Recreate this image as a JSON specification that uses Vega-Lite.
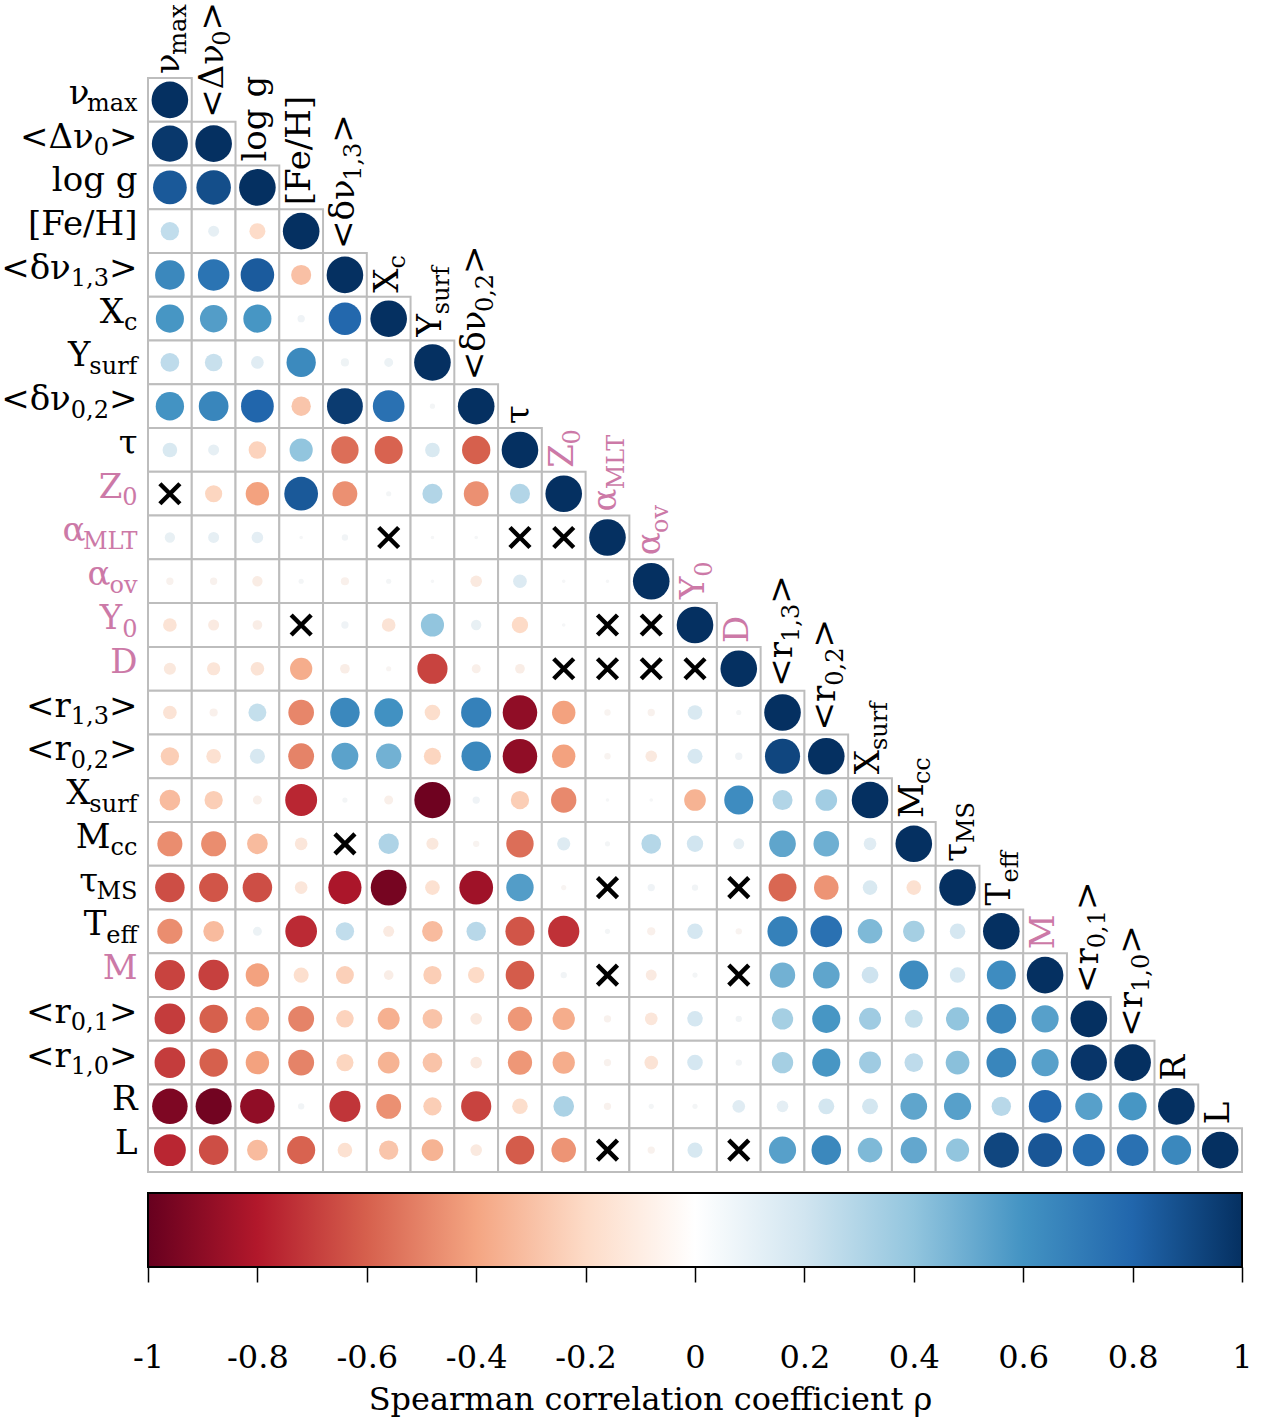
{
"$schema": "https://vega.github.io/schema/vega-lite/v6.json",
"width": 1094, "height": 1189,
"autosize": {"type": "none"},
"padding": {"left": 148, "top": 78, "right": 20, "bottom": 157},
"background": "white",
"config": {"view": {"stroke": null}},
"params": [
 {"name": "SW", "value": {"max": 48, "0": 15.2, "1,3": 38.2, "0,2": 38.2, "0,1": 38.2, "1,0": 38.2, "c": 13.5, "surf": 47, "MLT": 52, "ov": 27, "cc": 26.9, "MS": 39.5, "eff": 31}},
 {"name": "BW", "value": {"ν": 19.2, "<Δν": 72.1, "<δν": 68.2, "X": 24.2, "Y": 22.4, "Z": 23.4, "α": 22.4, "<r": 44.7, "M": 33.8, "τ": 18.7, "T": 23}}
],
"datasets": {
"labels": [
 {"name":"nu_max","base":"ν","sub":"max","tail":"","pink":false},
 {"name":"Dnu0","base":"<Δν","sub":"0","tail":">","pink":false},
 {"name":"logg","base":"log g","sub":"","tail":"","pink":false},
 {"name":"FeH","base":"[Fe/H]","sub":"","tail":"","pink":false},
 {"name":"dnu13","base":"<δν","sub":"1,3","tail":">","pink":false},
 {"name":"Xc","base":"X","sub":"c","tail":"","pink":false},
 {"name":"Ysurf","base":"Y","sub":"surf","tail":"","pink":false},
 {"name":"dnu02","base":"<δν","sub":"0,2","tail":">","pink":false},
 {"name":"tau","base":"τ","sub":"","tail":"","pink":false},
 {"name":"Z0","base":"Z","sub":"0","tail":"","pink":true},
 {"name":"aMLT","base":"α","sub":"MLT","tail":"","pink":true},
 {"name":"aov","base":"α","sub":"ov","tail":"","pink":true},
 {"name":"Y0","base":"Y","sub":"0","tail":"","pink":true},
 {"name":"D","base":"D","sub":"","tail":"","pink":true},
 {"name":"r13","base":"<r","sub":"1,3","tail":">","pink":false},
 {"name":"r02","base":"<r","sub":"0,2","tail":">","pink":false},
 {"name":"Xsurf","base":"X","sub":"surf","tail":"","pink":false},
 {"name":"Mcc","base":"M","sub":"cc","tail":"","pink":false},
 {"name":"tauMS","base":"τ","sub":"MS","tail":"","pink":false},
 {"name":"Teff","base":"T","sub":"eff","tail":"","pink":false},
 {"name":"M","base":"M","sub":"","tail":"","pink":true},
 {"name":"r01","base":"<r","sub":"0,1","tail":">","pink":false},
 {"name":"r10","base":"<r","sub":"1,0","tail":">","pink":false},
 {"name":"R","base":"R","sub":"","tail":"","pink":false},
 {"name":"L","base":"L","sub":"","tail":"","pink":false}
],
"cells": [
{"row":"nu_max","col":"nu_max","rho":1},
{"row":"Dnu0","col":"nu_max","rho":0.97},{"row":"Dnu0","col":"Dnu0","rho":1},
{"row":"logg","col":"nu_max","rho":0.85},{"row":"logg","col":"Dnu0","rho":0.89},{"row":"logg","col":"logg","rho":1},
{"row":"FeH","col":"nu_max","rho":0.25},{"row":"FeH","col":"Dnu0","rho":0.09},{"row":"FeH","col":"logg","rho":-0.19},{"row":"FeH","col":"FeH","rho":1},
{"row":"dnu13","col":"nu_max","rho":0.65},{"row":"dnu13","col":"Dnu0","rho":0.74},{"row":"dnu13","col":"logg","rho":0.84},{"row":"dnu13","col":"FeH","rho":-0.3},{"row":"dnu13","col":"dnu13","rho":1},
{"row":"Xc","col":"nu_max","rho":0.59},{"row":"Xc","col":"Dnu0","rho":0.56},{"row":"Xc","col":"logg","rho":0.59},{"row":"Xc","col":"FeH","rho":0.04},{"row":"Xc","col":"dnu13","rho":0.79},{"row":"Xc","col":"Xc","rho":1},
{"row":"Ysurf","col":"nu_max","rho":0.26},{"row":"Ysurf","col":"Dnu0","rho":0.23},{"row":"Ysurf","col":"logg","rho":0.12},{"row":"Ysurf","col":"FeH","rho":0.64},{"row":"Ysurf","col":"dnu13","rho":0.05},{"row":"Ysurf","col":"Xc","rho":0.06},{"row":"Ysurf","col":"Ysurf","rho":1},
{"row":"dnu02","col":"nu_max","rho":0.6},{"row":"dnu02","col":"Dnu0","rho":0.66},{"row":"dnu02","col":"logg","rho":0.8},{"row":"dnu02","col":"FeH","rho":-0.28},{"row":"dnu02","col":"dnu13","rho":0.96},{"row":"dnu02","col":"Xc","rho":0.75},{"row":"dnu02","col":"Ysurf","rho":0.02},{"row":"dnu02","col":"dnu02","rho":1},
{"row":"tau","col":"nu_max","rho":0.16},{"row":"tau","col":"Dnu0","rho":0.09},{"row":"tau","col":"logg","rho":-0.23},{"row":"tau","col":"FeH","rho":0.4},{"row":"tau","col":"dnu13","rho":-0.56},{"row":"tau","col":"Xc","rho":-0.59},{"row":"tau","col":"Ysurf","rho":0.16},{"row":"tau","col":"dnu02","rho":-0.6},{"row":"tau","col":"tau","rho":1},
{"row":"Z0","col":"nu_max","rho":null},{"row":"Z0","col":"Dnu0","rho":-0.22},{"row":"Z0","col":"logg","rho":-0.41},{"row":"Z0","col":"FeH","rho":0.85},{"row":"Z0","col":"dnu13","rho":-0.46},{"row":"Z0","col":"Xc","rho":0.02},{"row":"Z0","col":"Ysurf","rho":0.3},{"row":"Z0","col":"dnu02","rho":-0.46},{"row":"Z0","col":"tau","rho":0.3},{"row":"Z0","col":"Z0","rho":1},
{"row":"aMLT","col":"nu_max","rho":0.08},{"row":"aMLT","col":"Dnu0","rho":0.09},{"row":"aMLT","col":"logg","rho":0.1},{"row":"aMLT","col":"FeH","rho":0.01},{"row":"aMLT","col":"dnu13","rho":0.03},{"row":"aMLT","col":"Xc","rho":null},{"row":"aMLT","col":"Ysurf","rho":0.01},{"row":"aMLT","col":"dnu02","rho":0.01},{"row":"aMLT","col":"tau","rho":null},{"row":"aMLT","col":"Z0","rho":null},{"row":"aMLT","col":"aMLT","rho":1},
{"row":"aov","col":"nu_max","rho":-0.04},{"row":"aov","col":"Dnu0","rho":-0.04},{"row":"aov","col":"logg","rho":-0.08},{"row":"aov","col":"FeH","rho":0.02},{"row":"aov","col":"dnu13","rho":-0.05},{"row":"aov","col":"Xc","rho":0.02},{"row":"aov","col":"Ysurf","rho":0.01},{"row":"aov","col":"dnu02","rho":-0.1},{"row":"aov","col":"tau","rho":0.14},{"row":"aov","col":"Z0","rho":0.01},{"row":"aov","col":"aMLT","rho":0.01},{"row":"aov","col":"aov","rho":1},
{"row":"Y0","col":"nu_max","rho":-0.14},{"row":"Y0","col":"Dnu0","rho":-0.09},{"row":"Y0","col":"logg","rho":-0.07},{"row":"Y0","col":"FeH","rho":null},{"row":"Y0","col":"dnu13","rho":0.04},{"row":"Y0","col":"Xc","rho":-0.14},{"row":"Y0","col":"Ysurf","rho":0.4},{"row":"Y0","col":"dnu02","rho":0.08},{"row":"Y0","col":"tau","rho":-0.2},{"row":"Y0","col":"Z0","rho":0.01},{"row":"Y0","col":"aMLT","rho":null},{"row":"Y0","col":"aov","rho":null},{"row":"Y0","col":"Y0","rho":1},
{"row":"D","col":"nu_max","rho":-0.11},{"row":"D","col":"Dnu0","rho":-0.13},{"row":"D","col":"logg","rho":-0.14},{"row":"D","col":"FeH","rho":-0.37},{"row":"D","col":"dnu13","rho":-0.07},{"row":"D","col":"Xc","rho":-0.02},{"row":"D","col":"Ysurf","rho":-0.68},{"row":"D","col":"dnu02","rho":-0.06},{"row":"D","col":"tau","rho":-0.07},{"row":"D","col":"Z0","rho":null},{"row":"D","col":"aMLT","rho":null},{"row":"D","col":"aov","rho":null},{"row":"D","col":"Y0","rho":null},{"row":"D","col":"D","rho":1},
{"row":"r13","col":"nu_max","rho":-0.14},{"row":"r13","col":"Dnu0","rho":-0.05},{"row":"r13","col":"logg","rho":0.24},{"row":"r13","col":"FeH","rho":-0.49},{"row":"r13","col":"dnu13","rho":0.65},{"row":"r13","col":"Xc","rho":0.61},{"row":"r13","col":"Ysurf","rho":-0.18},{"row":"r13","col":"dnu02","rho":0.68},{"row":"r13","col":"tau","rho":-0.89},{"row":"r13","col":"Z0","rho":-0.41},{"row":"r13","col":"aMLT","rho":-0.03},{"row":"r13","col":"aov","rho":-0.04},{"row":"r13","col":"Y0","rho":0.16},{"row":"r13","col":"D","rho":0.02},{"row":"r13","col":"r13","rho":1},
{"row":"r02","col":"nu_max","rho":-0.25},{"row":"r02","col":"Dnu0","rho":-0.16},{"row":"r02","col":"logg","rho":0.17},{"row":"r02","col":"FeH","rho":-0.5},{"row":"r02","col":"dnu13","rho":0.54},{"row":"r02","col":"Xc","rho":0.48},{"row":"r02","col":"Ysurf","rho":-0.22},{"row":"r02","col":"dnu02","rho":0.65},{"row":"r02","col":"tau","rho":-0.89},{"row":"r02","col":"Z0","rho":-0.41},{"row":"r02","col":"aMLT","rho":-0.03},{"row":"r02","col":"aov","rho":-0.1},{"row":"r02","col":"Y0","rho":0.17},{"row":"r02","col":"D","rho":0.04},{"row":"r02","col":"r13","rho":0.92},{"row":"r02","col":"r02","rho":1},
{"row":"Xsurf","col":"nu_max","rho":-0.32},{"row":"Xsurf","col":"Dnu0","rho":-0.25},{"row":"Xsurf","col":"logg","rho":-0.06},{"row":"Xsurf","col":"FeH","rho":-0.76},{"row":"Xsurf","col":"dnu13","rho":0.02},{"row":"Xsurf","col":"Xc","rho":-0.06},{"row":"Xsurf","col":"Ysurf","rho":-0.98},{"row":"Xsurf","col":"dnu02","rho":0.04},{"row":"Xsurf","col":"tau","rho":-0.25},{"row":"Xsurf","col":"Z0","rho":-0.48},{"row":"Xsurf","col":"aMLT","rho":0.01},{"row":"Xsurf","col":"aov","rho":0.01},{"row":"Xsurf","col":"Y0","rho":-0.35},{"row":"Xsurf","col":"D","rho":0.63},{"row":"Xsurf","col":"r13","rho":0.3},{"row":"Xsurf","col":"r02","rho":0.35},{"row":"Xsurf","col":"Xsurf","rho":1},
{"row":"Mcc","col":"nu_max","rho":-0.47},{"row":"Mcc","col":"Dnu0","rho":-0.47},{"row":"Mcc","col":"logg","rho":-0.32},{"row":"Mcc","col":"FeH","rho":-0.12},{"row":"Mcc","col":"dnu13","rho":null},{"row":"Mcc","col":"Xc","rho":0.31},{"row":"Mcc","col":"Ysurf","rho":-0.11},{"row":"Mcc","col":"dnu02","rho":-0.03},{"row":"Mcc","col":"tau","rho":-0.56},{"row":"Mcc","col":"Z0","rho":0.13},{"row":"Mcc","col":"aMLT","rho":0.02},{"row":"Mcc","col":"aov","rho":0.29},{"row":"Mcc","col":"Y0","rho":0.2},{"row":"Mcc","col":"D","rho":0.09},{"row":"Mcc","col":"r13","rho":0.53},{"row":"Mcc","col":"r02","rho":0.49},{"row":"Mcc","col":"Xsurf","rho":0.12},{"row":"Mcc","col":"Mcc","rho":1},
{"row":"tauMS","col":"nu_max","rho":-0.65},{"row":"tauMS","col":"Dnu0","rho":-0.63},{"row":"tauMS","col":"logg","rho":-0.65},{"row":"tauMS","col":"FeH","rho":-0.12},{"row":"tauMS","col":"dnu13","rho":-0.82},{"row":"tauMS","col":"Xc","rho":-0.96},{"row":"tauMS","col":"Ysurf","rho":-0.16},{"row":"tauMS","col":"dnu02","rho":-0.85},{"row":"tauMS","col":"tau","rho":0.56},{"row":"tauMS","col":"Z0","rho":-0.02},{"row":"tauMS","col":"aMLT","rho":null},{"row":"tauMS","col":"aov","rho":0.04},{"row":"tauMS","col":"Y0","rho":0.03},{"row":"tauMS","col":"D","rho":null},{"row":"tauMS","col":"r13","rho":-0.58},{"row":"tauMS","col":"r02","rho":-0.45},{"row":"tauMS","col":"Xsurf","rho":0.16},{"row":"tauMS","col":"Mcc","rho":-0.16},{"row":"tauMS","col":"tauMS","rho":1},
{"row":"Teff","col":"nu_max","rho":-0.47},{"row":"Teff","col":"Dnu0","rho":-0.32},{"row":"Teff","col":"logg","rho":0.06},{"row":"Teff","col":"FeH","rho":-0.75},{"row":"Teff","col":"dnu13","rho":0.25},{"row":"Teff","col":"Xc","rho":-0.09},{"row":"Teff","col":"Ysurf","rho":-0.32},{"row":"Teff","col":"dnu02","rho":0.28},{"row":"Teff","col":"tau","rho":-0.63},{"row":"Teff","col":"Z0","rho":-0.73},{"row":"Teff","col":"aMLT","rho":0.02},{"row":"Teff","col":"aov","rho":-0.05},{"row":"Teff","col":"Y0","rho":0.18},{"row":"Teff","col":"D","rho":-0.03},{"row":"Teff","col":"r13","rho":0.68},{"row":"Teff","col":"r02","rho":0.75},{"row":"Teff","col":"Xsurf","rho":0.45},{"row":"Teff","col":"Mcc","rho":0.34},{"row":"Teff","col":"tauMS","rho":0.18},{"row":"Teff","col":"Teff","rho":1},
{"row":"M","col":"nu_max","rho":-0.68},{"row":"M","col":"Dnu0","rho":-0.69},{"row":"M","col":"logg","rho":-0.41},{"row":"M","col":"FeH","rho":-0.17},{"row":"M","col":"dnu13","rho":-0.24},{"row":"M","col":"Xc","rho":-0.07},{"row":"M","col":"Ysurf","rho":-0.25},{"row":"M","col":"dnu02","rho":-0.2},{"row":"M","col":"tau","rho":-0.61},{"row":"M","col":"Z0","rho":0.03},{"row":"M","col":"aMLT","rho":null},{"row":"M","col":"aov","rho":-0.09},{"row":"M","col":"Y0","rho":0.02},{"row":"M","col":"D","rho":null},{"row":"M","col":"r13","rho":0.48},{"row":"M","col":"r02","rho":0.53},{"row":"M","col":"Xsurf","rho":0.21},{"row":"M","col":"Mcc","rho":0.63},{"row":"M","col":"tauMS","rho":0.18},{"row":"M","col":"Teff","rho":0.63},{"row":"M","col":"M","rho":1},
{"row":"r01","col":"nu_max","rho":-0.7},{"row":"r01","col":"Dnu0","rho":-0.6},{"row":"r01","col":"logg","rho":-0.41},{"row":"r01","col":"FeH","rho":-0.5},{"row":"r01","col":"dnu13","rho":-0.23},{"row":"r01","col":"Xc","rho":-0.36},{"row":"r01","col":"Ysurf","rho":-0.29},{"row":"r01","col":"dnu02","rho":-0.1},{"row":"r01","col":"tau","rho":-0.44},{"row":"r01","col":"Z0","rho":-0.37},{"row":"r01","col":"aMLT","rho":-0.04},{"row":"r01","col":"aov","rho":-0.12},{"row":"r01","col":"Y0","rho":0.18},{"row":"r01","col":"D","rho":0.03},{"row":"r01","col":"r13","rho":0.34},{"row":"r01","col":"r02","rho":0.59},{"row":"r01","col":"Xsurf","rho":0.36},{"row":"r01","col":"Mcc","rho":0.24},{"row":"r01","col":"tauMS","rho":0.4},{"row":"r01","col":"Teff","rho":0.66},{"row":"r01","col":"M","rho":0.55},{"row":"r01","col":"r01","rho":1},
{"row":"r10","col":"nu_max","rho":-0.7},{"row":"r10","col":"Dnu0","rho":-0.6},{"row":"r10","col":"logg","rho":-0.41},{"row":"r10","col":"FeH","rho":-0.5},{"row":"r10","col":"dnu13","rho":-0.22},{"row":"r10","col":"Xc","rho":-0.35},{"row":"r10","col":"Ysurf","rho":-0.29},{"row":"r10","col":"dnu02","rho":-0.1},{"row":"r10","col":"tau","rho":-0.44},{"row":"r10","col":"Z0","rho":-0.37},{"row":"r10","col":"aMLT","rho":-0.04},{"row":"r10","col":"aov","rho":-0.14},{"row":"r10","col":"Y0","rho":0.18},{"row":"r10","col":"D","rho":0.03},{"row":"r10","col":"r13","rho":0.34},{"row":"r10","col":"r02","rho":0.59},{"row":"r10","col":"Xsurf","rho":0.36},{"row":"r10","col":"Mcc","rho":0.26},{"row":"r10","col":"tauMS","rho":0.42},{"row":"r10","col":"Teff","rho":0.66},{"row":"r10","col":"M","rho":0.55},{"row":"r10","col":"r01","rho":0.98},{"row":"r10","col":"r10","rho":1},
{"row":"R","col":"nu_max","rho":-0.94},{"row":"R","col":"Dnu0","rho":-0.97},{"row":"R","col":"logg","rho":-0.89},{"row":"R","col":"FeH","rho":0.03},{"row":"R","col":"dnu13","rho":-0.72},{"row":"R","col":"Xc","rho":-0.46},{"row":"R","col":"Ysurf","rho":-0.25},{"row":"R","col":"dnu02","rho":-0.68},{"row":"R","col":"tau","rho":-0.18},{"row":"R","col":"Z0","rho":0.32},{"row":"R","col":"aMLT","rho":-0.04},{"row":"R","col":"aov","rho":0.02},{"row":"R","col":"Y0","rho":0.02},{"row":"R","col":"D","rho":0.12},{"row":"R","col":"r13","rho":0.1},{"row":"R","col":"r02","rho":0.19},{"row":"R","col":"Xsurf","rho":0.19},{"row":"R","col":"Mcc","rho":0.53},{"row":"R","col":"tauMS","rho":0.55},{"row":"R","col":"Teff","rho":0.28},{"row":"R","col":"M","rho":0.79},{"row":"R","col":"r01","rho":0.55},{"row":"R","col":"r10","rho":0.59},{"row":"R","col":"R","rho":1},
{"row":"L","col":"nu_max","rho":-0.76},{"row":"L","col":"Dnu0","rho":-0.65},{"row":"L","col":"logg","rho":-0.32},{"row":"L","col":"FeH","rho":-0.59},{"row":"L","col":"dnu13","rho":-0.16},{"row":"L","col":"Xc","rho":-0.28},{"row":"L","col":"Ysurf","rho":-0.35},{"row":"L","col":"dnu02","rho":-0.1},{"row":"L","col":"tau","rho":-0.61},{"row":"L","col":"Z0","rho":-0.45},{"row":"L","col":"aMLT","rho":null},{"row":"L","col":"aov","rho":-0.04},{"row":"L","col":"Y0","rho":0.17},{"row":"L","col":"D","rho":null},{"row":"L","col":"r13","rho":0.55},{"row":"L","col":"r02","rho":0.65},{"row":"L","col":"Xsurf","rho":0.45},{"row":"L","col":"Mcc","rho":0.52},{"row":"L","col":"tauMS","rho":0.4},{"row":"L","col":"Teff","rho":0.92},{"row":"L","col":"M","rho":0.86},{"row":"L","col":"r01","rho":0.77},{"row":"L","col":"r10","rho":0.75},{"row":"L","col":"R","rho":0.65},{"row":"L","col":"L","rho":1}
]
},
"layer": [
{
"layer": [
 {"data": {"name": "cells"},
  "mark": {"type": "rect", "fill": "white", "stroke": "#bdbdbd", "strokeWidth": 2},
  "encoding": {
   "x": {"field": "col", "type": "ordinal", "scale": {"domain": ["nu_max","Dnu0","logg","FeH","dnu13","Xc","Ysurf","dnu02","tau","Z0","aMLT","aov","Y0","D","r13","r02","Xsurf","Mcc","tauMS","Teff","M","r01","r10","R","L"], "range": [0, 1094], "padding": 0}, "axis": null},
   "y": {"field": "row", "type": "ordinal", "scale": {"domain": ["nu_max","Dnu0","logg","FeH","dnu13","Xc","Ysurf","dnu02","tau","Z0","aMLT","aov","Y0","D","r13","r02","Xsurf","Mcc","tauMS","Teff","M","r01","r10","R","L"], "range": [0, 1094], "padding": 0}, "axis": null}
  }},
 {"data": {"name": "cells"},
  "transform": [{"filter": "isValid(datum.rho)"}],
  "mark": {"type": "point", "shape": "circle", "filled": true, "opacity": 1, "strokeWidth": 0},
  "encoding": {
   "x": {"field": "col", "type": "ordinal"},
   "y": {"field": "row", "type": "ordinal"},
   "color": {"field": "rho", "type": "quantitative", "scale": {"type": "linear", "domain": [-1, -0.8, -0.6, -0.4, -0.2, 0, 0.2, 0.4, 0.6, 0.8, 1], "range": ["#67001f", "#b2182b", "#d6604d", "#f4a582", "#fddbc7", "#f7f7f7", "#d1e5f0", "#92c5de", "#4393c3", "#2166ac", "#053061"], "interpolate": "rgb"}, "legend": null},
   "size": {"field": "rho", "type": "quantitative", "scale": {"type": "linear", "domain": [-1, 0, 1], "range": [1340, 0, 1340], "zero": false}, "legend": null}
  }},
 {"data": {"name": "cells"},
  "transform": [{"filter": "datum.rho === null"}],
  "mark": {"type": "point", "shape": "M-1,-1L1,1M1,-1L-1,1", "filled": false, "stroke": "black", "strokeWidth": 4.5, "size": 400, "opacity": 1},
  "encoding": {
   "x": {"field": "col", "type": "ordinal"},
   "y": {"field": "row", "type": "ordinal"}
  }},
 {"data": {"name": "labels"},
  "mark": {"type": "text", "font": "DejaVu Serif", "fontSize": 34, "align": "right", "baseline": "alphabetic", "dy": 4, "dx": {"expr": "-10.5 - (datum.tail ? 28.5 : 0) - (datum.sub ? SW[datum.sub] : 0)"}},
  "encoding": {
   "x": {"datum": "nu_max", "type": "ordinal", "bandPosition": 0},
   "y": {"field": "name", "type": "ordinal"},
   "text": {"field": "base"},
   "color": {"condition": {"test": "datum.pink", "value": "#CC79A7"}, "value": "black"}
  }},
 {"data": {"name": "labels"},
  "transform": [{"filter": "datum.sub != ''"}],
  "mark": {"type": "text", "font": "DejaVu Serif", "fontSize": 24, "align": "right", "baseline": "alphabetic", "dy": 11.5, "dx": {"expr": "-10.5 - (datum.tail ? 28.5 : 0)"}},
  "encoding": {
   "x": {"datum": "nu_max", "type": "ordinal", "bandPosition": 0},
   "y": {"field": "name", "type": "ordinal"},
   "text": {"field": "sub"},
   "color": {"condition": {"test": "datum.pink", "value": "#CC79A7"}, "value": "black"}
  }},
 {"data": {"name": "labels"},
  "transform": [{"filter": "datum.tail != ''"}],
  "mark": {"type": "text", "font": "DejaVu Serif", "fontSize": 34, "align": "right", "baseline": "alphabetic", "dy": 4, "dx": -10.5},
  "encoding": {
   "x": {"datum": "nu_max", "type": "ordinal", "bandPosition": 0},
   "y": {"field": "name", "type": "ordinal"},
   "text": {"field": "tail"},
   "color": {"condition": {"test": "datum.pink", "value": "#CC79A7"}, "value": "black"}
  }},
 {"data": {"name": "labels"},
  "mark": {"type": "text", "font": "DejaVu Serif", "fontSize": 34, "align": "left", "baseline": "alphabetic", "angle": 270, "dx": 4, "dy": 9},
  "encoding": {
   "x": {"field": "name", "type": "ordinal"},
   "y": {"field": "name", "type": "ordinal", "bandPosition": 0},
   "text": {"field": "base"},
   "color": {"condition": {"test": "datum.pink", "value": "#CC79A7"}, "value": "black"}
  }},
 {"data": {"name": "labels"},
  "transform": [{"filter": "datum.sub != ''"}],
  "mark": {"type": "text", "font": "DejaVu Serif", "fontSize": 24, "align": "left", "baseline": "alphabetic", "angle": 270, "dy": 16.5, "dx": {"expr": "4 + BW[datum.base]"}},
  "encoding": {
   "x": {"field": "name", "type": "ordinal"},
   "y": {"field": "name", "type": "ordinal", "bandPosition": 0},
   "text": {"field": "sub"},
   "color": {"condition": {"test": "datum.pink", "value": "#CC79A7"}, "value": "black"}
  }},
 {"data": {"name": "labels"},
  "transform": [{"filter": "datum.tail != ''"}],
  "mark": {"type": "text", "font": "DejaVu Serif", "fontSize": 34, "align": "left", "baseline": "alphabetic", "angle": 270, "dy": 9, "dx": {"expr": "4 + BW[datum.base] + (datum.sub ? SW[datum.sub] : 0)"}},
  "encoding": {
   "x": {"field": "name", "type": "ordinal"},
   "y": {"field": "name", "type": "ordinal", "bandPosition": 0},
   "text": {"field": "tail"},
   "color": {"condition": {"test": "datum.pink", "value": "#CC79A7"}, "value": "black"}
  }}
]
},
{
 "data": {"values": [{"lo": -1, "hi": 1}]},
 "mark": {"type": "rect", "stroke": "black", "strokeWidth": 2,
   "fill": {"gradient": "linear", "x1": 0, "y1": 0, "x2": 1, "y2": 0, "stops": [
     {"offset": 0, "color": "#67001f"}, {"offset": 0.1, "color": "#b2182b"}, {"offset": 0.2, "color": "#d6604d"},
     {"offset": 0.3, "color": "#f4a582"}, {"offset": 0.4, "color": "#fddbc7"}, {"offset": 0.5, "color": "#ffffff"},
     {"offset": 0.6, "color": "#d1e5f0"}, {"offset": 0.7, "color": "#92c5de"}, {"offset": 0.8, "color": "#4393c3"},
     {"offset": 0.9, "color": "#2166ac"}, {"offset": 1, "color": "#053061"}]}},
 "encoding": {
  "x": {"field": "lo", "type": "quantitative", "scale": {"domain": [-1, 1], "nice": false, "zero": false},
   "axis": {"orient": "bottom", "values": [-1, -0.8, -0.6, -0.4, -0.2, 0, 0.2, 0.4, 0.6, 0.8, 1], "format": ".1~f",
     "labelExpr": "replace(datum.label, '−', '-')", "domain": false, "grid": false,
     "ticks": true, "tickSize": 15, "tickWidth": 1.5, "tickColor": "black",
     "labelFont": "DejaVu Serif", "labelFontSize": 32, "labelColor": "black", "labelPadding": 60,
     "labelFlush": false, "labelOverlap": false,
     "title": "Spearman correlation coefficient ρ", "titleFont": "DejaVu Serif", "titleFontSize": 32,
     "titleFontWeight": "normal", "titleColor": "black", "titlePadding": 11, "titleX": 502, "titleAlign": "center"}},
  "x2": {"field": "hi"},
  "y": {"datum": 0, "type": "quantitative", "scale": {"domain": [0, 1], "range": [1189, 1115], "nice": false, "zero": false}, "axis": null},
  "y2": {"datum": 1}
 }
}
],
"resolve": {"scale": {"x": "independent", "y": "independent"}}
}
